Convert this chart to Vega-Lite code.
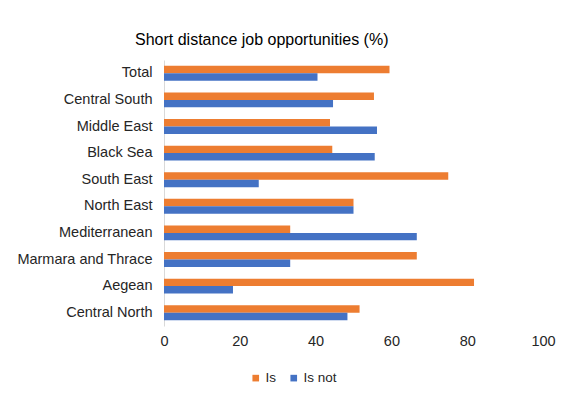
{
  "$schema": "https://vega.github.io/schema/vega-lite/v6.json",
  "autosize": "none",
  "width": 379,
  "height": 266,
  "padding": {"left": 164, "top": 60, "right": 22, "bottom": 74},
  "background": "white",
  "title": {
    "text": "Short distance job opportunities (%)",
    "anchor": "start",
    "frame": "group",
    "dx": -29,
    "offset": 12,
    "font": "Liberation Sans",
    "fontSize": 16,
    "fontWeight": "normal",
    "color": "#000000"
  },
  "config": {
    "view": {"stroke": null},
    "font": "Liberation Sans"
  },
  "data": {
    "values": [
      {"region": "Total", "series": "Is", "value": 59.5},
      {"region": "Total", "series": "Is not", "value": 40.5},
      {"region": "Central South", "series": "Is", "value": 55.4},
      {"region": "Central South", "series": "Is not", "value": 44.6},
      {"region": "Middle East", "series": "Is", "value": 43.8},
      {"region": "Middle East", "series": "Is not", "value": 56.2},
      {"region": "Black Sea", "series": "Is", "value": 44.4},
      {"region": "Black Sea", "series": "Is not", "value": 55.6},
      {"region": "South East", "series": "Is", "value": 75.0},
      {"region": "South East", "series": "Is not", "value": 25.0},
      {"region": "North East", "series": "Is", "value": 50.0},
      {"region": "North East", "series": "Is not", "value": 50.0},
      {"region": "Mediterranean", "series": "Is", "value": 33.3},
      {"region": "Mediterranean", "series": "Is not", "value": 66.7},
      {"region": "Marmara and Thrace", "series": "Is", "value": 66.7},
      {"region": "Marmara and Thrace", "series": "Is not", "value": 33.3},
      {"region": "Aegean", "series": "Is", "value": 81.8},
      {"region": "Aegean", "series": "Is not", "value": 18.2},
      {"region": "Central North", "series": "Is", "value": 51.6},
      {"region": "Central North", "series": "Is not", "value": 48.4}
    ]
  },
  "mark": {"type": "bar"},
  "encoding": {
    "y": {
      "field": "region",
      "type": "nominal",
      "sort": ["Total", "Central South", "Middle East", "Black Sea", "South East", "North East", "Mediterranean", "Marmara and Thrace", "Aegean", "Central North"],
      "scale": {"paddingInner": 0.44, "paddingOuter": 0.22},
      "axis": {
        "title": null,
        "ticks": false,
        "domain": true,
        "domainColor": "#d9d9d9",
        "labelFont": "Liberation Sans",
        "labelFontSize": 14.5,
        "labelColor": "#262626",
        "labelPadding": 12
      }
    },
    "yOffset": {
      "field": "series",
      "type": "nominal",
      "sort": ["Is", "Is not"],
      "scale": {"paddingInner": 0, "paddingOuter": 0}
    },
    "x": {
      "field": "value",
      "type": "quantitative",
      "scale": {"domain": [0, 100], "nice": false},
      "axis": {
        "title": null,
        "values": [0, 20, 40, 60, 80, 100],
        "grid": false,
        "domain": false,
        "ticks": false,
        "labelFlush": false,
        "labelFont": "Liberation Sans",
        "labelFontSize": 14.5,
        "labelColor": "#262626",
        "labelPadding": 8
      }
    },
    "color": {
      "field": "series",
      "type": "nominal",
      "scale": {"domain": ["Is", "Is not"], "range": ["#ED7D31", "#4472C4"]},
      "legend": {
        "title": null,
        "orient": "none",
        "direction": "horizontal",
        "legendX": 85,
        "legendY": 311,
        "symbolType": "square",
        "symbolSize": 44,
        "symbolStrokeWidth": 0,
        "labelFont": "Liberation Sans",
        "labelFontSize": 13.5,
        "labelColor": "#262626",
        "labelOffset": 3,
        "columnPadding": 10
      }
    }
  }
}
